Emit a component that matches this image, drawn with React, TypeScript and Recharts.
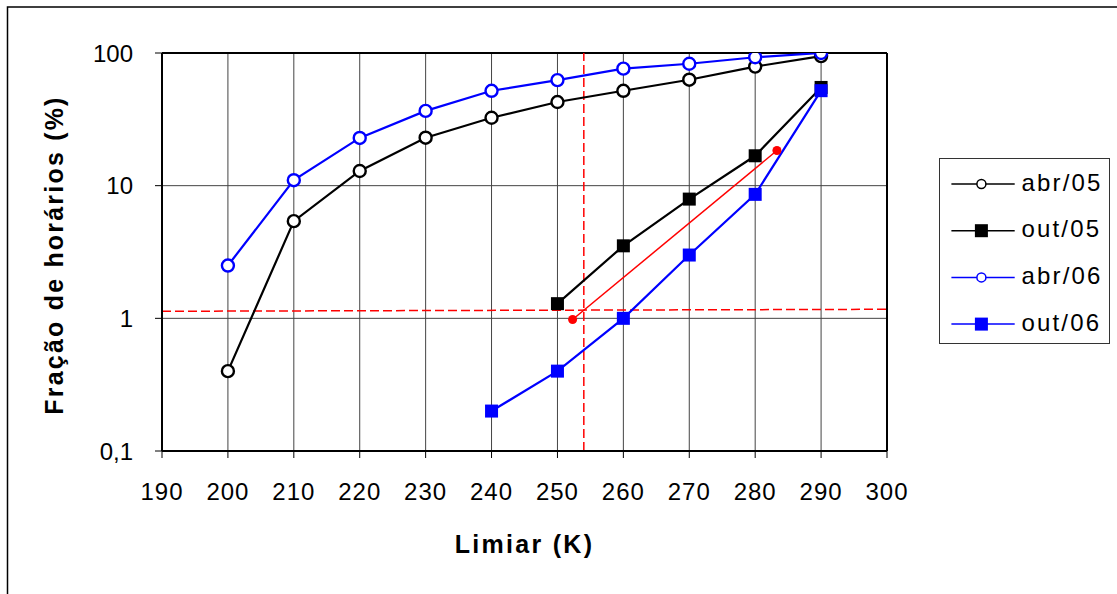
import React from 'react';
import { LineChart, Line, XAxis, YAxis, CartesianGrid, ReferenceLine, Legend, Label } from 'recharts';

// ---- data ----
const limiarAbr = [200, 210, 220, 230, 240, 250, 260, 270, 280, 290];
const abr05 = [0.4, 5.4, 12.9, 23, 32.5, 42.7, 51.9, 62.9, 79, 94.8];
const abr06 = [2.5, 11, 22.9, 36.6, 51.9, 62.5, 76.2, 83, 92.9, 100];
const limiarOut05 = [250, 260, 270, 280, 290];
const out05 = [1.29, 3.52, 7.92, 16.8, 55];
const limiarOut06 = [240, 250, 260, 270, 280, 290];
const out06 = [0.2, 0.4, 1.0, 3.0, 8.6, 52];
const fitLimiar = [252.3, 283.3];
const fitValues = [0.98, 18.4];
const refLimiar = 254;
const refLineX = [190, 300];
const refLineY = [1.13, 1.17];
const xTicks = [190, 200, 210, 220, 230, 240, 250, 260, 270, 280, 290, 300];
const yTicks = [0.1, 1, 10, 100];
const xTitle = 'Limiar (K)';
const yTitle = 'Fração de horários (%)';

const toPoints = (xs: number[], ys: number[]) => xs.map((x, i) => ({ x, y: ys[i] }));

const FONT = '"Liberation Sans", Arial, sans-serif';

type Series = { name: string; xs: number[]; ys: number[]; color: string; marker: 'circle' | 'square' };
const series: Series[] = [
  { name: 'abr/05', xs: limiarAbr, ys: abr05, color: '#000000', marker: 'circle' },
  { name: 'out/05', xs: limiarOut05, ys: out05, color: '#000000', marker: 'square' },
  { name: 'abr/06', xs: limiarAbr, ys: abr06, color: '#0000FF', marker: 'circle' },
  { name: 'out/06', xs: limiarOut06, ys: out06, color: '#0000FF', marker: 'square' },
];

const squareDot = (color: string, name: string) => (props: any) => {
  const { cx, cy, index } = props;
  if (cx == null || cy == null) return <g key={`${name}-${index}`} />;
  return <rect key={`${name}-${index}`} x={cx - 6.5} y={cy - 6.5} width={13} height={13} fill={color} stroke="none" />;
};

const fmtY = (v: number) => String(v).replace('.', ',');

const renderLegend = () => (
  <svg width={171} height={186} style={{ display: 'block' }}>
    {series.map((s, i) => {
      const cy = 25 + i * 46.7;
      return (
        <g key={s.name}>
          <line x1={11.4} x2={74.7} y1={cy} y2={cy} stroke={s.color} strokeWidth={1.5} />
          {s.marker === 'circle' ? (
            <circle cx={41.4} cy={cy} r={4.5} fill="#fff" stroke={s.color} strokeWidth={1.5} />
          ) : (
            <rect x={41.4 - 6.5} y={cy - 6.5} width={13} height={13} fill={s.color} />
          )}
          <text x={81.4} y={cy + 6.7} fontSize={24} fontFamily={FONT} fill="#000" letterSpacing={2.2}>
            {s.name}
          </text>
        </g>
      );
    })}
  </svg>
);

export default function App() {
  return (
    <div style={{ position: 'absolute', left: 0, top: 0, width: 1117, height: 594, overflow: 'hidden', background: '#fff' }}>
      <svg width={1117} height={594} style={{ position: 'absolute', left: 0, top: 0 }}>
        <path d="M7.5,600 V7 H1200" fill="none" stroke="#000" strokeWidth={1.5} />
      </svg>
      <div style={{ position: 'absolute', left: 0, top: 0 }}>
        <LineChart width={1117} height={594} margin={{ top: 53, right: 230, bottom: 0, left: 0 }} style={{ fontFamily: FONT }}>
          <CartesianGrid stroke="#444" strokeWidth={1} />
          <XAxis
            type="number"
            dataKey="x"
            domain={[190, 300]}
            ticks={xTicks}
            interval={0}
            height={143}
            allowDataOverflow
            axisLine={{ stroke: '#000', strokeWidth: 2 }}
            tickLine={{ stroke: '#000', strokeWidth: 1 }}
            tickSize={7}
            tickMargin={25}
            tick={{ fontSize: 24, fill: '#000', fontFamily: FONT, letterSpacing: 1 }}
          >
            <Label
              content={() => (
                <text x={524.5} y={553} textAnchor="middle" fontSize={25} fontWeight="bold" fontFamily={FONT} fill="#000" letterSpacing={2.3}>
                  {xTitle}
                </text>
              )}
            />
          </XAxis>
          <YAxis
            type="number"
            dataKey="y"
            scale="log"
            domain={[0.1, 100]}
            ticks={yTicks}
            interval={0}
            width={162}
            allowDataOverflow
            axisLine={{ stroke: '#000', strokeWidth: 2 }}
            tickLine={{ stroke: '#000', strokeWidth: 1 }}
            tickSize={7}
            tickMargin={22}
            tickFormatter={fmtY}
            tick={{ fontSize: 24, fill: '#000', fontFamily: FONT }}
          >
            <Label
              content={() => (
                <text x={63} y={255} transform="rotate(-90, 63, 255)" textAnchor="middle" fontSize={25} fontWeight="bold" fontFamily={FONT} fill="#000" letterSpacing={2.2}>
                  {yTitle}
                </text>
              )}
            />
          </YAxis>
          <ReferenceLine y={100} stroke="#000" strokeWidth={2} />
          <ReferenceLine x={300} stroke="#000" strokeWidth={2} />
          <ReferenceLine
            segment={[{ x: refLineX[0], y: refLineY[0] }, { x: refLineX[1], y: refLineY[1] }]}
            stroke="#FF0000"
            strokeWidth={1.5}
            strokeDasharray="9 4"
          />
          <ReferenceLine x={refLimiar} stroke="#FF0000" strokeWidth={1.5} strokeDasharray="9 4" />
          <Line
            data={toPoints(fitLimiar, fitValues)}
            dataKey="y"
            stroke="#FF0000"
            strokeWidth={1.5}
            dot={{ r: 4.5, fill: '#FF0000', stroke: 'none' }}
            activeDot={false}
            legendType="none"
            isAnimationActive={false}
          />
          {series.map((s) => (
            <Line
              key={s.name}
              name={s.name}
              data={toPoints(s.xs, s.ys)}
              dataKey="y"
              stroke={s.color}
              strokeWidth={2.2}
              dot={s.marker === 'circle' ? { r: 6, fill: '#fff', stroke: s.color, strokeWidth: 2.4 } : squareDot(s.color, s.name)}
              activeDot={false}
              isAnimationActive={false}
            />
          ))}
          <Legend
            layout="horizontal"
            verticalAlign="middle"
            align="center"
            content={renderLegend}
            wrapperStyle={{ left: 939, top: 158, width: 171, height: 186, border: '1px solid #333', boxSizing: 'border-box', background: '#fff' }}
          />
        </LineChart>
      </div>
    </div>
  );
}
